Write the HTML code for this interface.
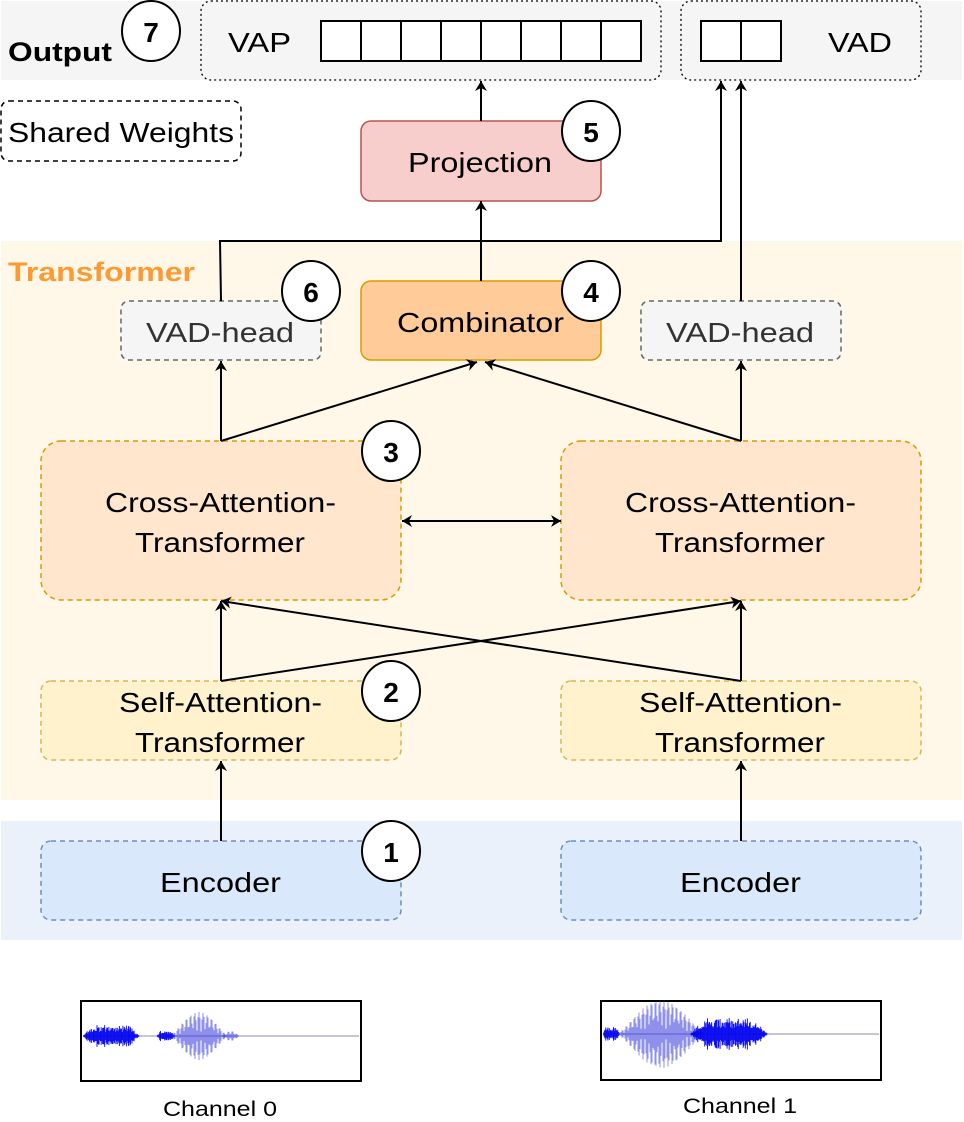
<!DOCTYPE html>
<html><head><meta charset="utf-8"><style>
html,body{margin:0;padding:0;background:#fff;}
svg{display:block;}
text{font-family:"Liberation Sans",Arial,sans-serif;}
</style></head><body>
<svg id="s" width="964" height="1122" viewBox="0 0 964 1122" xmlns="http://www.w3.org/2000/svg">
<defs>
<marker id="a" viewBox="0 0 10 14" refX="10" refY="7" markerWidth="10" markerHeight="14" orient="auto-start-reverse" markerUnits="userSpaceOnUse"><path d="M0,1 L10,7 L0,13 L3,7 z" fill="#000"/></marker>
</defs>
<rect x="1" y="1" width="961" height="79" fill="#f5f5f5"/>
<rect x="1" y="241" width="961" height="559" fill="#fff8e8"/>
<rect x="1" y="821" width="961" height="119" fill="#eaf1fb"/>

<text x="8" y="61" font-size="27" font-weight="bold" textLength="104" lengthAdjust="spacingAndGlyphs">Output</text>
<text x="8" y="281" font-size="27" font-weight="bold" fill="#ff9933" textLength="187" lengthAdjust="spacingAndGlyphs">Transformer</text>

<rect x="201" y="1" width="460" height="79" rx="10" fill="#f5f5f5" stroke="#000" stroke-dasharray="2 3" stroke-width="1.3"/>
<text x="228" y="52" font-size="28" textLength="63" lengthAdjust="spacingAndGlyphs">VAP</text>
<g fill="#fff" stroke="#000" stroke-width="2">
<rect x="321" y="21" width="40" height="40"/><rect x="361" y="21" width="40" height="40"/><rect x="401" y="21" width="40" height="40"/><rect x="441" y="21" width="40" height="40"/><rect x="481" y="21" width="40" height="40"/><rect x="521" y="21" width="40" height="40"/><rect x="561" y="21" width="40" height="40"/><rect x="601" y="21" width="40" height="40"/>
<rect x="701" y="21" width="40" height="40"/><rect x="741" y="21" width="40" height="40"/>
</g>
<rect x="681" y="1" width="240" height="79" rx="10" fill="none" stroke="#000" stroke-dasharray="2 3" stroke-width="1.3"/>
<text x="828" y="52" font-size="28" textLength="64" lengthAdjust="spacingAndGlyphs">VAD</text>

<rect x="1" y="101" width="240" height="60" rx="8" fill="#fff" stroke="#000" stroke-dasharray="5 4" stroke-width="1.5"/>
<text x="8" y="142" font-size="28" textLength="226" lengthAdjust="spacingAndGlyphs">Shared Weights</text>

<rect x="361" y="121" width="240" height="80" rx="10" fill="#f8cecc" stroke="#b85450" stroke-width="1.5"/>
<text x="408" y="172" font-size="28" textLength="144" lengthAdjust="spacingAndGlyphs">Projection</text>

<rect x="121" y="301" width="200" height="59" rx="8" fill="#f5f5f5" stroke="#666" stroke-dasharray="5 4" stroke-width="1.5"/>
<text x="146" y="342" font-size="28" fill="#333" textLength="148" lengthAdjust="spacingAndGlyphs">VAD-head</text>
<rect x="641" y="301" width="200" height="59" rx="8" fill="#f5f5f5" stroke="#666" stroke-dasharray="5 4" stroke-width="1.5"/>
<text x="666" y="342" font-size="28" fill="#333" textLength="148" lengthAdjust="spacingAndGlyphs">VAD-head</text>

<rect x="361" y="281" width="240" height="79" rx="10" fill="#ffcc99" stroke="#d79b00" stroke-width="1.5"/>
<text x="397" y="332" font-size="28" textLength="167" lengthAdjust="spacingAndGlyphs">Combinator</text>

<rect x="41" y="441" width="360" height="159" rx="20" fill="#ffe6cc" stroke="#d79b00" stroke-dasharray="5 4" stroke-width="1.5"/>
<text x="105" y="512" font-size="28" textLength="231" lengthAdjust="spacingAndGlyphs">Cross-Attention-</text>
<text x="135" y="552" font-size="28" textLength="170" lengthAdjust="spacingAndGlyphs">Transformer</text>
<rect x="561" y="441" width="360" height="159" rx="20" fill="#ffe6cc" stroke="#d79b00" stroke-dasharray="5 4" stroke-width="1.5"/>
<text x="625" y="512" font-size="28" textLength="231" lengthAdjust="spacingAndGlyphs">Cross-Attention-</text>
<text x="655" y="552" font-size="28" textLength="170" lengthAdjust="spacingAndGlyphs">Transformer</text>

<rect x="41" y="681" width="360" height="79" rx="10" fill="#fff2cc" stroke="#d6b656" stroke-dasharray="5 4" stroke-width="1.5"/>
<text x="119" y="712" font-size="28" textLength="203" lengthAdjust="spacingAndGlyphs">Self-Attention-</text>
<text x="135" y="752" font-size="28" textLength="170" lengthAdjust="spacingAndGlyphs">Transformer</text>
<rect x="561" y="681" width="360" height="79" rx="10" fill="#fff2cc" stroke="#d6b656" stroke-dasharray="5 4" stroke-width="1.5"/>
<text x="639" y="712" font-size="28" textLength="203" lengthAdjust="spacingAndGlyphs">Self-Attention-</text>
<text x="655" y="752" font-size="28" textLength="170" lengthAdjust="spacingAndGlyphs">Transformer</text>

<rect x="41" y="841" width="360" height="79" rx="10" fill="#dae8fc" stroke="#6c8ebf" stroke-dasharray="5 4" stroke-width="1.5"/>
<text x="160" y="892" font-size="28" textLength="121" lengthAdjust="spacingAndGlyphs">Encoder</text>
<rect x="561" y="841" width="360" height="79" rx="10" fill="#dae8fc" stroke="#6c8ebf" stroke-dasharray="5 4" stroke-width="1.5"/>
<text x="680" y="892" font-size="28" textLength="121" lengthAdjust="spacingAndGlyphs">Encoder</text>

<g stroke="#000" stroke-width="2" fill="none" marker-end="url(#a)">
<line x1="481" y1="121" x2="481" y2="81"/>
<line x1="481" y1="281" x2="481" y2="201"/>
<polyline points="221,301 220,241 721,241 721,81"/>
<line x1="741" y1="301" x2="741" y2="81"/>
<line x1="221" y1="441" x2="221" y2="361"/>
<line x1="221" y1="441" x2="477" y2="362"/>
<line x1="741" y1="441" x2="741" y2="361"/>
<line x1="741" y1="441" x2="485" y2="362"/>
<line x1="402" y1="521" x2="561" y2="521" marker-start="url(#a)"/>
<line x1="221" y1="681" x2="221" y2="601"/>
<line x1="221" y1="681" x2="741" y2="601"/>
<line x1="741" y1="681" x2="741" y2="601"/>
<line x1="741" y1="681" x2="221" y2="601"/>
<line x1="221" y1="841" x2="221" y2="761"/>
<line x1="741" y1="841" x2="741" y2="761"/>
</g>

<g fill="#fff" stroke="#000" stroke-width="2">
<ellipse cx="151" cy="31" rx="29" ry="30"/>
<ellipse cx="591" cy="131" rx="29" ry="30"/>
<ellipse cx="311" cy="291" rx="29" ry="30"/>
<ellipse cx="591" cy="291" rx="29" ry="30"/>
<ellipse cx="391" cy="451" rx="29" ry="30"/>
<ellipse cx="391" cy="691" rx="29" ry="30"/>
<ellipse cx="391" cy="851" rx="29" ry="30"/>
</g>
<g font-size="28" font-weight="bold" text-anchor="middle">
<text x="151" y="42">7</text><text x="591" y="142">5</text><text x="311" y="302">6</text><text x="591" y="302">4</text><text x="391" y="462">3</text><text x="391" y="702">2</text><text x="391" y="862">1</text>
</g>

<rect x="81" y="1001" width="280" height="80" fill="#fff" stroke="#000" stroke-width="2"/>
<rect x="601" y="1001" width="280" height="79" fill="#fff" stroke="#000" stroke-width="2"/>
<g id="w0"></g><g id="w1"></g>
<text x="163" y="1116" font-size="21" textLength="114" lengthAdjust="spacingAndGlyphs">Channel 0</text>
<text x="683" y="1113" font-size="21" textLength="114" lengthAdjust="spacingAndGlyphs">Channel 1</text>
</svg>
<script>
(function(){
var NS="http://www.w3.org/2000/svg";
function ln(g,x,y1,y2,c,w,o){var l=document.createElementNS(NS,"line");l.setAttribute("x1",x);l.setAttribute("x2",x);l.setAttribute("y1",y1);l.setAttribute("y2",y2);l.setAttribute("stroke",c);l.setAttribute("stroke-width",w);l.setAttribute("stroke-opacity",o);g.appendChild(l);}
function noise(g,x0,x1,cy,amp){
  for(var x=x0;x<=x1;x+=0.7){
    var t=(x-x0)/(x1-x0);var env=Math.min(1,t*6,(1-t)*5);
    var r=Math.abs(Math.sin(x*127.1)*437.5)%1;
    var a=amp*env*(0.35+0.65*r);
    ln(g,x,cy-a,cy+a,"#0000ee",1,0.9);
  }
}
function sine(g,x0,x1,cy,amp){
  for(var x=x0;x<=x1;x+=1){
    var t=(x-x0)/(x1-x0);var env=Math.pow(Math.sin(Math.PI*t),1.3);
    var ph=Math.abs(Math.sin(x*0.75));
    var a=amp*env*(0.15+0.85*ph);
    ln(g,x,cy-a,cy+a,"#3333dd",1,0.55);
  }
}
function base(g,x0,x1,cy){var l=document.createElementNS(NS,"line");l.setAttribute("x1",x0);l.setAttribute("x2",x1);l.setAttribute("y1",cy);l.setAttribute("y2",cy);l.setAttribute("stroke","#b0b0d8");l.setAttribute("stroke-width","1.5");g.appendChild(l);}
var g0=document.getElementById("w0"),g1=document.getElementById("w1");
base(g0,83,359,1036);noise(g0,83,140,1036,11);noise(g0,157,175,1036,5);sine(g0,170,228,1036,24);sine(g0,222,240,1036,5);
base(g1,603,879,1034);noise(g1,603,620,1034,7);sine(g1,617,705,1034,34);noise(g1,690,768,1034,16);
})();
</script>
</body></html>
